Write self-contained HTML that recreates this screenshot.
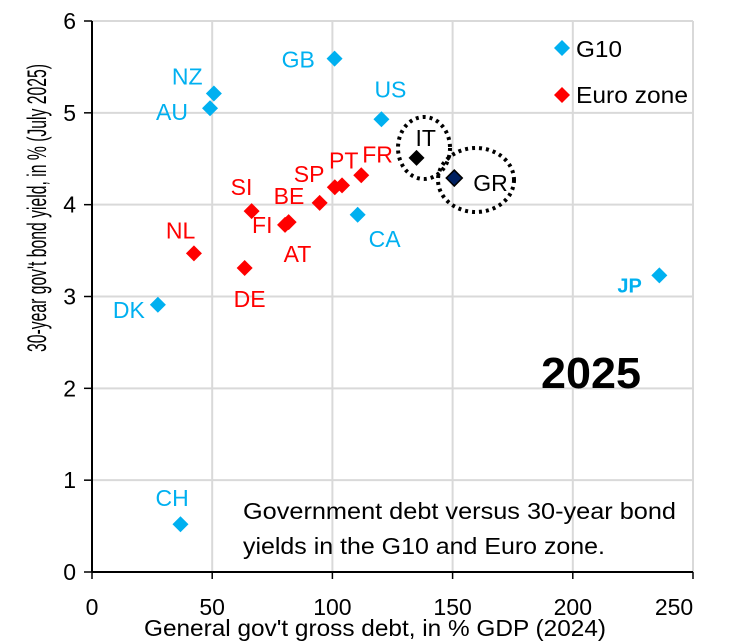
<!DOCTYPE html>
<html><head><meta charset="utf-8"><style>
html,body{margin:0;padding:0;background:#fff;}
svg{display:block;font-family:"Liberation Sans",sans-serif;}
</style></head><body>
<svg id="chart" width="740" height="643" viewBox="0 0 740 643">
<g id="grid"></g>
<g id="axes"></g>
<g id="marks"></g>
<g transform="translate(46,208) rotate(-90)">
<text x="0" y="0" text-anchor="middle" font-size="27" textLength="288" lengthAdjust="spacingAndGlyphs">30-year gov't bond yield, in % (July 2025)</text>
</g>
<text x="375" y="636" text-anchor="middle" font-size="23" textLength="462" lengthAdjust="spacingAndGlyphs">General gov't gross debt, in % GDP (2024)</text>
<g>
<path d="M562 40 L570 48 L562 56 L554 48 Z" fill="#00B0F0"/>
<text x="576" y="57" font-size="23" textLength="46" lengthAdjust="spacingAndGlyphs">G10</text>
<path d="M562 87 L570 95 L562 103 L554 95 Z" fill="#FF0000"/>
<text x="576" y="103" font-size="23" textLength="112" lengthAdjust="spacingAndGlyphs">Euro zone</text>
</g>
<text x="541" y="388" font-size="44" font-weight="bold" textLength="100" lengthAdjust="spacingAndGlyphs">2025</text>
<text x="243" y="519" font-size="23" textLength="433" lengthAdjust="spacingAndGlyphs">Government debt versus 30-year bond</text>
<text x="243" y="554" font-size="23" textLength="362" lengthAdjust="spacingAndGlyphs">yields in the G10 and Euro zone.</text>
<ellipse cx="424" cy="148" rx="26" ry="31" fill="none" stroke="#000" stroke-width="4" stroke-dasharray="3 4"/>
<ellipse cx="476" cy="180" rx="38" ry="32" fill="none" stroke="#000" stroke-width="4" stroke-dasharray="3 4"/>
</svg>
<script>
const countries = ["GB","NZ","AU","US","CA","DK","JP","CH","IT","GR","FR","PT","SP","BE","SI","FI","AT","NL","DE"];
const groups = ["G10","G10","G10","G10","G10","G10","G10","G10","IT","GR","EZ","EZ","EZ","EZ","EZ","EZ","EZ","EZ","EZ"];
const debt = [100.9,50.7,49.1,120.4,110.5,27.4,236,36.8,135,150.7,112,104,101,94.7,66.4,80.3,81.8,42.4,63.5];
const yields = [5.59,5.21,5.05,4.93,3.89,2.91,3.23,0.52,4.51,4.29,4.32,4.21,4.19,4.02,3.93,3.78,3.81,3.47,3.31];
const xTicks = [0,50,100,150,200,250];
const yTicks = [0,1,2,3,4,5,6];
// label offsets relative to the marker (readability only)
const labelDx = [-53,-42,-54,-7,11,-45,-42,-25,-1,19,1,-13,-41,-46,-21,-33,-5,-28,-11];
const labelDy = [9,-9,12,-22,32,13,17,-18,-12,13,-13,-17,-5,1,-16,8,40,-15,39];

const X0=92, X1=693, Y0=572, Y1=21;
const xs = v => X0 + (v-0)/(250-0)*(X1-X0);
const ys = v => Y0 - (v-0)/(6-0)*(Y0-Y1);
const NS="http://www.w3.org/2000/svg";
const grid=document.getElementById('grid'), axes=document.getElementById('axes'), marks=document.getElementById('marks');
function mk(tag,attrs,parent){const e=document.createElementNS(NS,tag);for(const k in attrs)e.setAttribute(k,attrs[k]);parent.appendChild(e);return e;}

xTicks.forEach(t=>{
  if(t>0){const l=mk('line',{x1:xs(t),x2:xs(t),y1:Y1,y2:Y0,stroke:'#d9d9d9','stroke-width':2},grid);
  
  }
  const tk=mk('line',{x1:xs(t),x2:xs(t),y1:Y0,y2:Y0+7,stroke:'#000','stroke-width':1.5},axes);
  
  
  const tx=mk('text',{x:t===250?674:xs(t),y:615,'text-anchor':'middle','font-size':23},axes);
  tx.textContent=t;
  
  
});
yTicks.forEach(t=>{
  if(t>0){const l=mk('line',{x1:X0,x2:X1,y1:ys(t),y2:ys(t),stroke:'#d9d9d9','stroke-width':2},grid);
  
  }
  const tk=mk('line',{x1:X0-8,x2:X0,y1:ys(t),y2:ys(t),stroke:'#000','stroke-width':1.5},axes);
  
  
  const tx=mk('text',{x:76,y:ys(t)+8,'text-anchor':'end','font-size':23},axes);
  tx.textContent=t;
  
  
});
const rightBorder=mk('line',{x1:X1,x2:X1,y1:Y1,y2:Y0,stroke:'#d9d9d9','stroke-width':2},grid);


const xAxis=mk('line',{x1:X0,x2:X1,y1:Y0,y2:Y0,stroke:'#000','stroke-width':2},axes);


const yAxis=mk('line',{x1:X0,x2:X0,y1:Y1,y2:Y0,stroke:'#000','stroke-width':2},axes);



const fillFor={G10:'#00B0F0',EZ:'#FF0000',IT:'#000000',GR:'#002060'};
const textFor={G10:'#00B0F0',EZ:'#FF0000',IT:'#000000',GR:'#000000'};
countries.forEach((c,i)=>{
  const x=xs(debt[i]), y=ys(yields[i]), r=8, g=groups[i];
  const p=mk('path',{d:`M${x} ${y-r} L${x+r} ${y} L${x} ${y+r} L${x-r} ${y} Z`,fill:fillFor[g],stroke:g==='GR'?'#000':'none','stroke-width':1.5},marks);
  
  
  const t=mk('text',{x:x+labelDx[i],y:y+labelDy[i],'font-size':c==='JP'?20:23,fill:textFor[g],'font-weight':c==='JP'?'bold':'normal'},marks);
  t.textContent=c;
  
  
});
</script>
</body></html>
